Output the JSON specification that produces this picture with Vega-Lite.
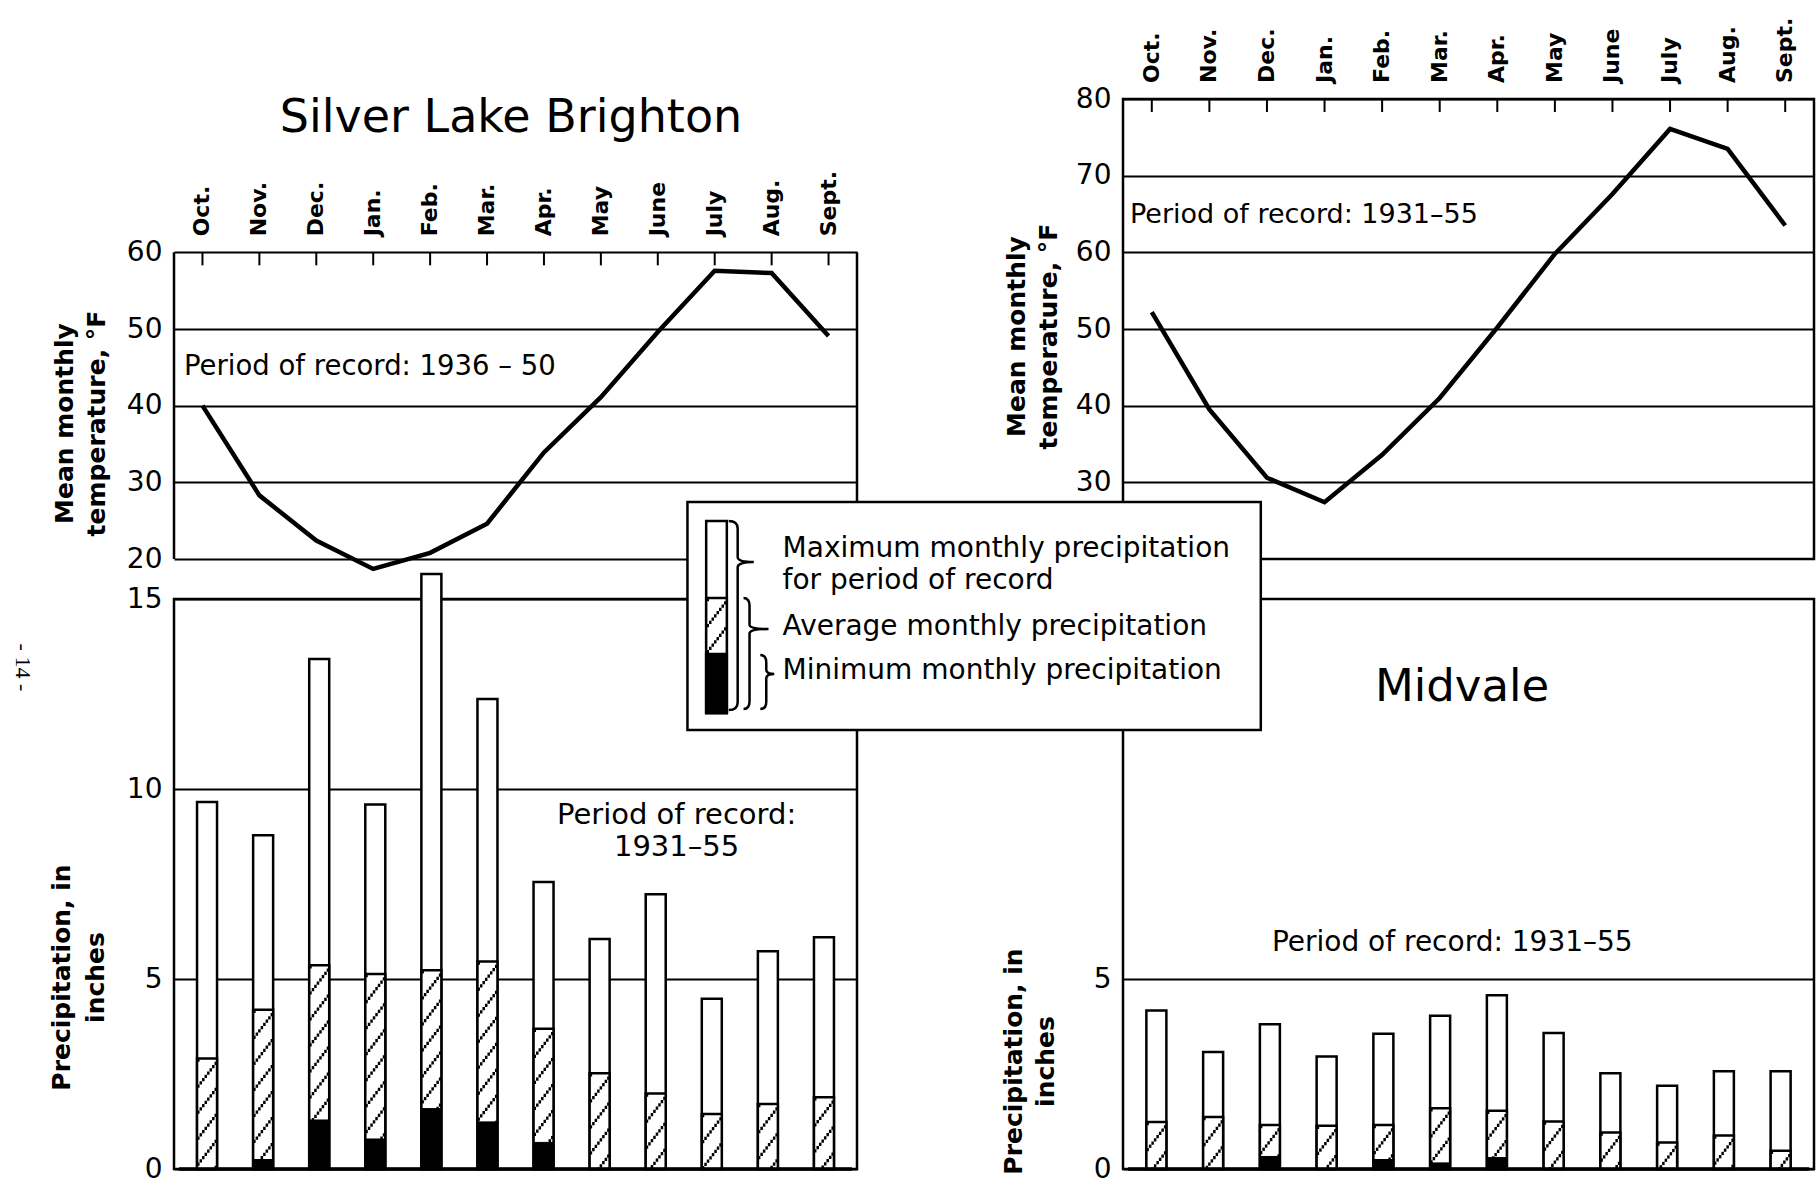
{
  "$schema": "https://vega.github.io/schema/vega-lite/v6.json",
  "background": "white",
  "padding": {"left": 11, "top": 16, "right": 0, "bottom": 0},
  "columns": 2,
  "bounds": "flush",
  "align": "each",
  "spacing": {"row": 40, "column": 266},
  "config": {
    "view": {"stroke": "black", "strokeWidth": 2.5},
    "mark": {"color": "black"},
    "text": {"font": "DejaVu Sans", "color": "black"},
    "axisY": {
      "domain": false, "ticks": false, "tickSize": 0,
      "grid": true, "gridColor": "black", "gridWidth": 2, "gridOpacity": 1,
      "labelFont": "DejaVu Sans", "labelFontSize": 28, "labelColor": "black", "labelPadding": 12, "labelFontWeight": "normal",
      "titleFont": "DejaVu Sans", "titleFontSize": 25, "titleFontWeight": "bold", "titleColor": "black",
      "titleAngle": 270, "titleAlign": "center", "titleBaseline": "alphabetic", "titleLineHeight": 32
    }
  },
  "datasets": {
    "slbTemp": [
      {"wyMonth": 1, "month": "Oct.", "temp": 40.0},
      {"wyMonth": 2, "month": "Nov.", "temp": 28.3},
      {"wyMonth": 3, "month": "Dec.", "temp": 22.4},
      {"wyMonth": 4, "month": "Jan.", "temp": 18.7},
      {"wyMonth": 5, "month": "Feb.", "temp": 20.8},
      {"wyMonth": 6, "month": "Mar.", "temp": 24.6},
      {"wyMonth": 7, "month": "Apr.", "temp": 33.9},
      {"wyMonth": 8, "month": "May", "temp": 41.1},
      {"wyMonth": 9, "month": "June", "temp": 49.6},
      {"wyMonth": 10, "month": "July", "temp": 57.6},
      {"wyMonth": 11, "month": "Aug.", "temp": 57.3},
      {"wyMonth": 12, "month": "Sept.", "temp": 49.1}
    ],
    "midTemp": [
      {"wyMonth": 1, "month": "Oct.", "temp": 52.2},
      {"wyMonth": 2, "month": "Nov.", "temp": 39.5},
      {"wyMonth": 3, "month": "Dec.", "temp": 30.6},
      {"wyMonth": 4, "month": "Jan.", "temp": 27.4},
      {"wyMonth": 5, "month": "Feb.", "temp": 33.6},
      {"wyMonth": 6, "month": "Mar.", "temp": 41.0},
      {"wyMonth": 7, "month": "Apr.", "temp": 50.2},
      {"wyMonth": 8, "month": "May", "temp": 59.8},
      {"wyMonth": 9, "month": "June", "temp": 67.6},
      {"wyMonth": 10, "month": "July", "temp": 76.1},
      {"wyMonth": 11, "month": "Aug.", "temp": 73.5},
      {"wyMonth": 12, "month": "Sept.", "temp": 63.5}
    ],
    "slbPrecip": [
      {"wyMonth": 1, "month": "Oct.", "max": 9.66, "avg": 2.91, "min": 0},
      {"wyMonth": 2, "month": "Nov.", "max": 8.78, "avg": 4.19, "min": 0.25},
      {"wyMonth": 3, "month": "Dec.", "max": 13.42, "avg": 5.36, "min": 1.29},
      {"wyMonth": 4, "month": "Jan.", "max": 9.59, "avg": 5.13, "min": 0.79},
      {"wyMonth": 5, "month": "Feb.", "max": 15.66, "avg": 5.23, "min": 1.59},
      {"wyMonth": 6, "month": "Mar.", "max": 12.37, "avg": 5.46, "min": 1.24},
      {"wyMonth": 7, "month": "Apr.", "max": 7.55, "avg": 3.69, "min": 0.70},
      {"wyMonth": 8, "month": "May", "max": 6.05, "avg": 2.52, "min": 0},
      {"wyMonth": 9, "month": "June", "max": 7.23, "avg": 1.99, "min": 0},
      {"wyMonth": 10, "month": "July", "max": 4.48, "avg": 1.45, "min": 0},
      {"wyMonth": 11, "month": "Aug.", "max": 5.73, "avg": 1.71, "min": 0},
      {"wyMonth": 12, "month": "Sept.", "max": 6.10, "avg": 1.89, "min": 0}
    ],
    "midPrecip": [
      {"wyMonth": 1, "month": "Oct.", "max": 4.17, "avg": 1.24, "min": 0},
      {"wyMonth": 2, "month": "Nov.", "max": 3.08, "avg": 1.37, "min": 0},
      {"wyMonth": 3, "month": "Dec.", "max": 3.81, "avg": 1.16, "min": 0.33},
      {"wyMonth": 4, "month": "Jan.", "max": 2.96, "avg": 1.14, "min": 0},
      {"wyMonth": 5, "month": "Feb.", "max": 3.56, "avg": 1.16, "min": 0.25},
      {"wyMonth": 6, "month": "Mar.", "max": 4.03, "avg": 1.60, "min": 0.16},
      {"wyMonth": 7, "month": "Apr.", "max": 4.57, "avg": 1.53, "min": 0.30},
      {"wyMonth": 8, "month": "May", "max": 3.58, "avg": 1.25, "min": 0},
      {"wyMonth": 9, "month": "June", "max": 2.52, "avg": 0.96, "min": 0},
      {"wyMonth": 10, "month": "July", "max": 2.19, "avg": 0.70, "min": 0},
      {"wyMonth": 11, "month": "Aug.", "max": 2.57, "avg": 0.88, "min": 0},
      {"wyMonth": 12, "month": "Sept.", "max": 2.57, "avg": 0.48, "min": 0}
    ]
  },
  "concat": [
    {
      "width": 683,
      "height": 460,
      "view": {"stroke": null},
      "layer": [
        {
          "data": {"name": "slbTemp"},
          "mark": {"type": "line", "color": "black", "strokeWidth": 4.5},
          "encoding": {
            "x": {"field": "wyMonth", "type": "quantitative", "scale": {"domain": [0.5, 12.5], "nice": false, "zero": false}, "axis": null},
            "y": {"field": "temp", "type": "quantitative", "scale": {"domain": [20, 80], "nice": false, "zero": false},
                  "axis": {"values": [20, 30, 40, 50, 60], "title": ["Mean  monthly", "temperature, °F"], "titleX": -102, "titleY": 324}}
          }
        },
        {
          "data": {"values": [{}]},
          "mark": {"type": "rule", "color": "black", "strokeWidth": 2.5},
          "encoding": {"x": {"datum": 0.5, "type": "quantitative", "axis": null}, "y": {"datum": 20, "type": "quantitative"}, "y2": {"datum": 60}}
        },
        {
          "data": {"values": [{}]},
          "mark": {"type": "rule", "color": "black", "strokeWidth": 2.5},
          "encoding": {"x": {"datum": 12.5, "type": "quantitative", "axis": null}, "y": {"datum": 20, "type": "quantitative"}, "y2": {"datum": 60}}
        },
        {
          "data": {"name": "slbTemp"},
          "mark": {"type": "rule", "color": "black", "strokeWidth": 2, "y2Offset": 13},
          "encoding": {"x": {"field": "wyMonth", "type": "quantitative", "axis": null}, "y": {"datum": 60, "type": "quantitative"}, "y2": {"datum": 60}}
        },
        {
          "data": {"name": "slbTemp"},
          "mark": {"type": "text", "angle": 270, "align": "left", "baseline": "middle", "dx": 16, "fontSize": 22, "fontWeight": "bold"},
          "encoding": {"x": {"field": "wyMonth", "type": "quantitative", "axis": null}, "y": {"datum": 60, "type": "quantitative"}, "text": {"field": "month"}}
        },
        {
          "data": {"values": [{}]},
          "mark": {"type": "text", "text": "Silver Lake Brighton", "fontSize": 46, "align": "center", "baseline": "alphabetic"},
          "encoding": {"x": {"datum": 6.42, "type": "quantitative", "axis": null}, "y": {"datum": 75.7, "type": "quantitative"}}
        },
        {
          "data": {"values": [{}]},
          "mark": {"type": "text", "text": "Period of record: 1936 – 50", "fontSize": 27.5, "align": "left", "baseline": "alphabetic"},
          "encoding": {"x": {"datum": 0.676, "type": "quantitative", "axis": null}, "y": {"datum": 44.0, "type": "quantitative"}}
        }
      ]
    },
    {
      "width": 691,
      "height": 460,
      "layer": [
        {
          "data": {"name": "midTemp"},
          "mark": {"type": "line", "color": "black", "strokeWidth": 4.5},
          "encoding": {
            "x": {"field": "wyMonth", "type": "quantitative", "scale": {"domain": [0.5, 12.5], "nice": false, "zero": false}, "axis": null},
            "y": {"field": "temp", "type": "quantitative", "scale": {"domain": [20, 80], "nice": false, "zero": false},
                  "axis": {"values": [30, 40, 50, 60, 70, 80], "title": ["Mean  monthly", "temperature, °F"], "titleX": -99, "titleY": 237}}
          }
        },
        {
          "data": {"name": "midTemp"},
          "mark": {"type": "rule", "color": "black", "strokeWidth": 2, "y2Offset": 13},
          "encoding": {"x": {"field": "wyMonth", "type": "quantitative", "axis": null}, "y": {"datum": 80, "type": "quantitative"}, "y2": {"datum": 80}}
        },
        {
          "data": {"name": "midTemp"},
          "mark": {"type": "text", "angle": 270, "align": "left", "baseline": "middle", "dx": 16, "fontSize": 22, "fontWeight": "bold"},
          "encoding": {"x": {"field": "wyMonth", "type": "quantitative", "axis": null}, "y": {"datum": 80, "type": "quantitative"}, "text": {"field": "month"}}
        },
        {
          "data": {"values": [{}]},
          "mark": {"type": "text", "text": "Period of record: 1931–55", "fontSize": 27, "align": "left", "baseline": "alphabetic"},
          "encoding": {"x": {"datum": 0.622, "type": "quantitative", "axis": null}, "y": {"datum": 63.8, "type": "quantitative"}}
        }
      ]
    },
    {
      "width": 683,
      "height": 570,
      "layer": [
        {
          "data": {"name": "slbPrecip"},
          "mark": {"type": "bar", "width": 20, "fill": "white", "stroke": "black", "strokeWidth": 2.5},
          "encoding": {
            "x": {"field": "wyMonth", "type": "quantitative", "scale": {"domain": [0.5, 12.5], "nice": false, "zero": false}, "axis": null},
            "y": {"field": "max", "type": "quantitative", "scale": {"domain": [0, 15], "nice": false, "zero": false},
                  "axis": {"values": [0, 5, 10, 15], "title": ["Precipitation, in", "inches"], "titleX": -105, "titleY": 378, "titleLineHeight": 34}},
            "y2": {"datum": 0}
          }
        },
        {
          "data": {"name": "slbPrecip"},
          "mark": {"type": "bar", "width": 20, "fill": "white", "stroke": "black", "strokeWidth": 2.5},
          "encoding": {"x": {"field": "wyMonth", "type": "quantitative", "axis": null}, "y": {"field": "avg", "type": "quantitative"}, "y2": {"datum": 0}}
        },
        {"data": {"name": "slbPrecip"}, "mark": {"type": "rule", "color": "black", "strokeWidth": 2.5, "strokeDash": [3.25, 22.75], "strokeDashOffset": 0, "xOffset": -8.75},
         "encoding": {"x": {"field": "wyMonth", "type": "quantitative", "axis": null}, "y": {"field": "avg", "type": "quantitative"}, "y2": {"datum": 0}}},
        {"data": {"name": "slbPrecip"}, "mark": {"type": "rule", "color": "black", "strokeWidth": 2.5, "strokeDash": [3.25, 22.75], "strokeDashOffset": 3.25, "xOffset": -6.25},
         "encoding": {"x": {"field": "wyMonth", "type": "quantitative", "axis": null}, "y": {"field": "avg", "type": "quantitative"}, "y2": {"datum": 0}}},
        {"data": {"name": "slbPrecip"}, "mark": {"type": "rule", "color": "black", "strokeWidth": 2.5, "strokeDash": [3.25, 22.75], "strokeDashOffset": 6.5, "xOffset": -3.75},
         "encoding": {"x": {"field": "wyMonth", "type": "quantitative", "axis": null}, "y": {"field": "avg", "type": "quantitative"}, "y2": {"datum": 0}}},
        {"data": {"name": "slbPrecip"}, "mark": {"type": "rule", "color": "black", "strokeWidth": 2.5, "strokeDash": [3.25, 22.75], "strokeDashOffset": 9.75, "xOffset": -1.25},
         "encoding": {"x": {"field": "wyMonth", "type": "quantitative", "axis": null}, "y": {"field": "avg", "type": "quantitative"}, "y2": {"datum": 0}}},
        {"data": {"name": "slbPrecip"}, "mark": {"type": "rule", "color": "black", "strokeWidth": 2.5, "strokeDash": [3.25, 22.75], "strokeDashOffset": 13, "xOffset": 1.25},
         "encoding": {"x": {"field": "wyMonth", "type": "quantitative", "axis": null}, "y": {"field": "avg", "type": "quantitative"}, "y2": {"datum": 0}}},
        {"data": {"name": "slbPrecip"}, "mark": {"type": "rule", "color": "black", "strokeWidth": 2.5, "strokeDash": [3.25, 22.75], "strokeDashOffset": 16.25, "xOffset": 3.75},
         "encoding": {"x": {"field": "wyMonth", "type": "quantitative", "axis": null}, "y": {"field": "avg", "type": "quantitative"}, "y2": {"datum": 0}}},
        {"data": {"name": "slbPrecip"}, "mark": {"type": "rule", "color": "black", "strokeWidth": 2.5, "strokeDash": [3.25, 22.75], "strokeDashOffset": 19.5, "xOffset": 6.25},
         "encoding": {"x": {"field": "wyMonth", "type": "quantitative", "axis": null}, "y": {"field": "avg", "type": "quantitative"}, "y2": {"datum": 0}}},
        {"data": {"name": "slbPrecip"}, "mark": {"type": "rule", "color": "black", "strokeWidth": 2.5, "strokeDash": [3.25, 22.75], "strokeDashOffset": 22.75, "xOffset": 8.75},
         "encoding": {"x": {"field": "wyMonth", "type": "quantitative", "axis": null}, "y": {"field": "avg", "type": "quantitative"}, "y2": {"datum": 0}}},
        {
          "data": {"name": "slbPrecip"},
          "mark": {"type": "bar", "width": 20, "fill": "black", "stroke": "black", "strokeWidth": 1},
          "encoding": {"x": {"field": "wyMonth", "type": "quantitative", "axis": null}, "y": {"field": "min", "type": "quantitative"}, "y2": {"datum": 0}}
        },
        {
          "data": {"values": [{}]},
          "mark": {"type": "rule", "color": "black", "strokeWidth": 3.5},
          "encoding": {"x": {"datum": 0.5, "type": "quantitative", "axis": null}, "x2": {"datum": 12.5}, "y": {"datum": 0, "type": "quantitative"}}
        },
        {
          "data": {"values": [{}]},
          "mark": {"type": "text", "text": ["Period of record:", "1931–55"], "lineHeight": 32, "fontSize": 29, "align": "center", "baseline": "alphabetic"},
          "encoding": {"x": {"datum": 9.372, "type": "quantitative", "axis": null}, "y": {"datum": 9.08, "type": "quantitative"}}
        },
        {
          "data": {"values": [{}]},
          "mark": {"type": "text", "text": "- 14 -", "font": "Liberation Serif", "fontSize": 22, "angle": 90, "align": "center", "baseline": "middle"},
          "encoding": {"x": {"datum": -2.276, "type": "quantitative", "axis": null}, "y": {"datum": 13.2, "type": "quantitative"}}
        }
      ]
    },
    {
      "width": 691,
      "height": 570,
      "layer": [
        {
          "data": {"name": "midPrecip"},
          "mark": {"type": "bar", "width": 20, "fill": "white", "stroke": "black", "strokeWidth": 2.5},
          "encoding": {
            "x": {"field": "wyMonth", "type": "quantitative", "scale": {"domain": [0.5, 12.5], "nice": false, "zero": false}, "axis": null},
            "y": {"field": "max", "type": "quantitative", "scale": {"domain": [0, 15], "nice": false, "zero": false},
                  "axis": {"values": [0, 5], "title": ["Precipitation, in", "inches"], "titleX": -102, "titleY": 462}},
            "y2": {"datum": 0}
          }
        },
        {
          "data": {"name": "midPrecip"},
          "mark": {"type": "bar", "width": 20, "fill": "white", "stroke": "black", "strokeWidth": 2.5},
          "encoding": {"x": {"field": "wyMonth", "type": "quantitative", "axis": null}, "y": {"field": "avg", "type": "quantitative"}, "y2": {"datum": 0}}
        },
        {"data": {"name": "midPrecip"}, "mark": {"type": "rule", "color": "black", "strokeWidth": 2.5, "strokeDash": [3.25, 22.75], "strokeDashOffset": 0, "xOffset": -8.75},
         "encoding": {"x": {"field": "wyMonth", "type": "quantitative", "axis": null}, "y": {"field": "avg", "type": "quantitative"}, "y2": {"datum": 0}}},
        {"data": {"name": "midPrecip"}, "mark": {"type": "rule", "color": "black", "strokeWidth": 2.5, "strokeDash": [3.25, 22.75], "strokeDashOffset": 3.25, "xOffset": -6.25},
         "encoding": {"x": {"field": "wyMonth", "type": "quantitative", "axis": null}, "y": {"field": "avg", "type": "quantitative"}, "y2": {"datum": 0}}},
        {"data": {"name": "midPrecip"}, "mark": {"type": "rule", "color": "black", "strokeWidth": 2.5, "strokeDash": [3.25, 22.75], "strokeDashOffset": 6.5, "xOffset": -3.75},
         "encoding": {"x": {"field": "wyMonth", "type": "quantitative", "axis": null}, "y": {"field": "avg", "type": "quantitative"}, "y2": {"datum": 0}}},
        {"data": {"name": "midPrecip"}, "mark": {"type": "rule", "color": "black", "strokeWidth": 2.5, "strokeDash": [3.25, 22.75], "strokeDashOffset": 9.75, "xOffset": -1.25},
         "encoding": {"x": {"field": "wyMonth", "type": "quantitative", "axis": null}, "y": {"field": "avg", "type": "quantitative"}, "y2": {"datum": 0}}},
        {"data": {"name": "midPrecip"}, "mark": {"type": "rule", "color": "black", "strokeWidth": 2.5, "strokeDash": [3.25, 22.75], "strokeDashOffset": 13, "xOffset": 1.25},
         "encoding": {"x": {"field": "wyMonth", "type": "quantitative", "axis": null}, "y": {"field": "avg", "type": "quantitative"}, "y2": {"datum": 0}}},
        {"data": {"name": "midPrecip"}, "mark": {"type": "rule", "color": "black", "strokeWidth": 2.5, "strokeDash": [3.25, 22.75], "strokeDashOffset": 16.25, "xOffset": 3.75},
         "encoding": {"x": {"field": "wyMonth", "type": "quantitative", "axis": null}, "y": {"field": "avg", "type": "quantitative"}, "y2": {"datum": 0}}},
        {"data": {"name": "midPrecip"}, "mark": {"type": "rule", "color": "black", "strokeWidth": 2.5, "strokeDash": [3.25, 22.75], "strokeDashOffset": 19.5, "xOffset": 6.25},
         "encoding": {"x": {"field": "wyMonth", "type": "quantitative", "axis": null}, "y": {"field": "avg", "type": "quantitative"}, "y2": {"datum": 0}}},
        {"data": {"name": "midPrecip"}, "mark": {"type": "rule", "color": "black", "strokeWidth": 2.5, "strokeDash": [3.25, 22.75], "strokeDashOffset": 22.75, "xOffset": 8.75},
         "encoding": {"x": {"field": "wyMonth", "type": "quantitative", "axis": null}, "y": {"field": "avg", "type": "quantitative"}, "y2": {"datum": 0}}},
        {
          "data": {"name": "midPrecip"},
          "mark": {"type": "bar", "width": 20, "fill": "black", "stroke": "black", "strokeWidth": 1},
          "encoding": {"x": {"field": "wyMonth", "type": "quantitative", "axis": null}, "y": {"field": "min", "type": "quantitative"}, "y2": {"datum": 0}}
        },
        {
          "data": {"values": [{}]},
          "mark": {"type": "rule", "color": "black", "strokeWidth": 3.5},
          "encoding": {"x": {"datum": 0.5, "type": "quantitative", "axis": null}, "x2": {"datum": 12.5}, "y": {"datum": 0, "type": "quantitative"}}
        },
        {
          "data": {"values": [{}]},
          "mark": {"type": "text", "text": "Period of record: 1931–55", "fontSize": 28, "align": "center", "baseline": "alphabetic"},
          "encoding": {"x": {"datum": 6.214, "type": "quantitative", "axis": null}, "y": {"datum": 5.74, "type": "quantitative"}}
        },
        {
          "data": {"values": [{}]},
          "mark": {"type": "text", "text": "Midvale", "fontSize": 45, "align": "center", "baseline": "alphabetic"},
          "encoding": {"x": {"datum": 6.387, "type": "quantitative", "axis": null}, "y": {"datum": 12.32, "type": "quantitative"}}
        },
        {
          "data": {"values": [{}]},
          "mark": {"type": "rect", "fill": "white", "stroke": "black", "strokeWidth": 2.5},
          "encoding": {"x": {"datum": -7.263, "type": "quantitative", "axis": null}, "x2": {"datum": 2.84}, "y": {"datum": 17.553, "type": "quantitative"}, "y2": {"datum": 11.553}}
        },
        {
          "data": {"values": [{}]},
          "mark": {"type": "rect", "fill": "white", "stroke": "black", "strokeWidth": 2.5},
          "encoding": {"x": {"datum": -6.933, "type": "quantitative", "axis": null}, "x2": {"datum": -6.569}, "y": {"datum": 17.053, "type": "quantitative"}, "y2": {"datum": 12.0}}
        },
        {
          "data": {"values": [{}]},
          "mark": {"type": "rect", "fill": "white", "stroke": "black", "strokeWidth": 2.5},
          "encoding": {"x": {"datum": -6.933, "type": "quantitative", "axis": null}, "x2": {"datum": -6.569}, "y": {"datum": 15.026, "type": "quantitative"}, "y2": {"datum": 12.0}}
        },
        {"data": {"values": [{}]}, "mark": {"type": "rule", "color": "black", "strokeWidth": 2.5, "strokeDash": [3.25, 22.75], "strokeDashOffset": 0, "xOffset": -8.75},
         "encoding": {"x": {"datum": -6.751, "type": "quantitative", "axis": null}, "y": {"datum": 15.026, "type": "quantitative"}, "y2": {"datum": 12.0}}},
        {"data": {"values": [{}]}, "mark": {"type": "rule", "color": "black", "strokeWidth": 2.5, "strokeDash": [3.25, 22.75], "strokeDashOffset": 3.25, "xOffset": -6.25},
         "encoding": {"x": {"datum": -6.751, "type": "quantitative", "axis": null}, "y": {"datum": 15.026, "type": "quantitative"}, "y2": {"datum": 12.0}}},
        {"data": {"values": [{}]}, "mark": {"type": "rule", "color": "black", "strokeWidth": 2.5, "strokeDash": [3.25, 22.75], "strokeDashOffset": 6.5, "xOffset": -3.75},
         "encoding": {"x": {"datum": -6.751, "type": "quantitative", "axis": null}, "y": {"datum": 15.026, "type": "quantitative"}, "y2": {"datum": 12.0}}},
        {"data": {"values": [{}]}, "mark": {"type": "rule", "color": "black", "strokeWidth": 2.5, "strokeDash": [3.25, 22.75], "strokeDashOffset": 9.75, "xOffset": -1.25},
         "encoding": {"x": {"datum": -6.751, "type": "quantitative", "axis": null}, "y": {"datum": 15.026, "type": "quantitative"}, "y2": {"datum": 12.0}}},
        {"data": {"values": [{}]}, "mark": {"type": "rule", "color": "black", "strokeWidth": 2.5, "strokeDash": [3.25, 22.75], "strokeDashOffset": 13, "xOffset": 1.25},
         "encoding": {"x": {"datum": -6.751, "type": "quantitative", "axis": null}, "y": {"datum": 15.026, "type": "quantitative"}, "y2": {"datum": 12.0}}},
        {"data": {"values": [{}]}, "mark": {"type": "rule", "color": "black", "strokeWidth": 2.5, "strokeDash": [3.25, 22.75], "strokeDashOffset": 16.25, "xOffset": 3.75},
         "encoding": {"x": {"datum": -6.751, "type": "quantitative", "axis": null}, "y": {"datum": 15.026, "type": "quantitative"}, "y2": {"datum": 12.0}}},
        {"data": {"values": [{}]}, "mark": {"type": "rule", "color": "black", "strokeWidth": 2.5, "strokeDash": [3.25, 22.75], "strokeDashOffset": 19.5, "xOffset": 6.25},
         "encoding": {"x": {"datum": -6.751, "type": "quantitative", "axis": null}, "y": {"datum": 15.026, "type": "quantitative"}, "y2": {"datum": 12.0}}},
        {"data": {"values": [{}]}, "mark": {"type": "rule", "color": "black", "strokeWidth": 2.5, "strokeDash": [3.25, 22.75], "strokeDashOffset": 22.75, "xOffset": 8.75},
         "encoding": {"x": {"datum": -6.751, "type": "quantitative", "axis": null}, "y": {"datum": 15.026, "type": "quantitative"}, "y2": {"datum": 12.0}}},
        {
          "data": {"values": [{}]},
          "mark": {"type": "rect", "fill": "black", "stroke": "black", "strokeWidth": 2.5},
          "encoding": {"x": {"datum": -6.933, "type": "quantitative", "axis": null}, "x2": {"datum": -6.569}, "y": {"datum": 13.553, "type": "quantitative"}, "y2": {"datum": 12.0}}
        },
        {
          "data": {"values": [{}]},
          "mark": {"type": "point", "shape": "M-0.095,-1 Q0,-1 0,-0.92 L0,-0.62 Q0,-0.566 0.17,-0.566 Q0,-0.566 0,-0.51 L0,0.92 Q0,1 -0.095,1", "size": 35721, "filled": false, "stroke": "black", "strokeWidth": 2.5, "opacity": 1},
          "encoding": {"x": {"datum": -6.378, "type": "quantitative", "axis": null}, "y": {"datum": 14.566, "type": "quantitative"}}
        },
        {
          "data": {"values": [{}]},
          "mark": {"type": "point", "shape": "M-0.108,-1 Q0,-1 0,-0.86 L0,-0.52 Q0,-0.441 0.342,-0.441 Q0,-0.441 0,-0.36 L0,0.86 Q0,1 -0.108,1", "size": 12321, "filled": false, "stroke": "black", "strokeWidth": 2.5, "opacity": 1},
          "encoding": {"x": {"datum": -6.169, "type": "quantitative", "axis": null}, "y": {"datum": 13.566, "type": "quantitative"}}
        },
        {
          "data": {"values": [{}]},
          "mark": {"type": "point", "shape": "M-0.222,-1 Q0,-1 0,-0.72 L0,-0.45 Q0,-0.296 0.296,-0.296 Q0,-0.296 0,-0.14 L0,0.72 Q0,1 -0.222,1", "size": 2916, "filled": false, "stroke": "black", "strokeWidth": 2.5, "opacity": 1},
          "encoding": {"x": {"datum": -5.874, "type": "quantitative", "axis": null}, "y": {"datum": 12.816, "type": "quantitative"}}
        },
        {
          "data": {"values": [{}]},
          "mark": {"type": "text", "text": ["Maximum monthly precipitation", "for period of record"], "lineHeight": 32, "fontSize": 28, "align": "left", "baseline": "alphabetic"},
          "encoding": {"x": {"datum": -5.586, "type": "quantitative", "axis": null}, "y": {"datum": 16.105, "type": "quantitative"}}
        },
        {
          "data": {"values": [{}]},
          "mark": {"type": "text", "text": "Average monthly precipitation", "fontSize": 28, "align": "left", "baseline": "alphabetic"},
          "encoding": {"x": {"datum": -5.586, "type": "quantitative", "axis": null}, "y": {"datum": 14.053, "type": "quantitative"}}
        },
        {
          "data": {"values": [{}]},
          "mark": {"type": "text", "text": "Minimum monthly precipitation", "fontSize": 28, "align": "left", "baseline": "alphabetic"},
          "encoding": {"x": {"datum": -5.586, "type": "quantitative", "axis": null}, "y": {"datum": 12.895, "type": "quantitative"}}
        }
      ]
    }
  ]
}
